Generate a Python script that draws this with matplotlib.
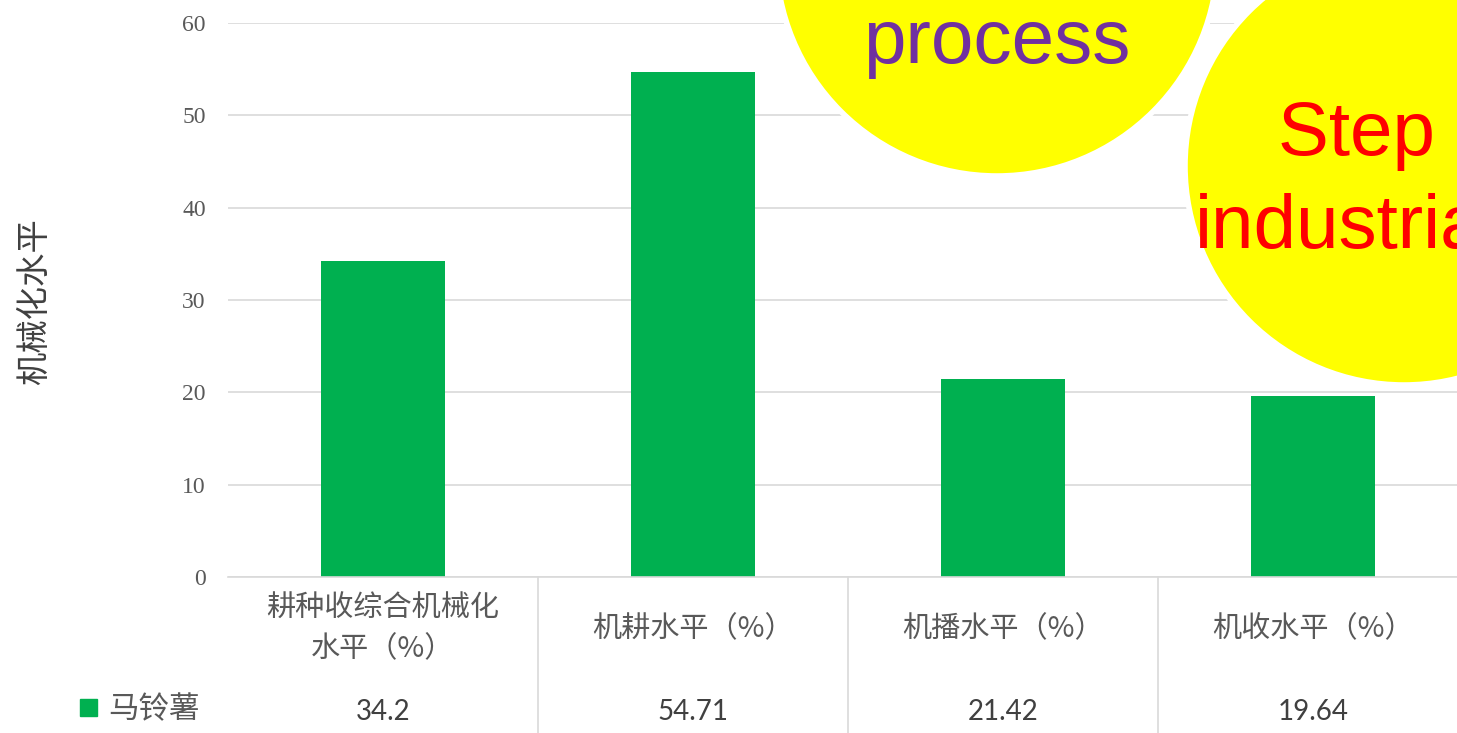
import matplotlib
matplotlib.use("Agg")
import matplotlib.pyplot as plt
from matplotlib.patches import Circle, Rectangle
from matplotlib.transforms import blended_transform_factory

plt.rcParams['font.family'] = ['Noto Sans CJK SC', 'DejaVu Sans']

categories = ["耕种收综合机械化\n水平（%）", "机耕水平（%）", "机播水平（%）", "机收水平（%）"]
values = [34.2, 54.71, 21.42, 19.64]
value_labels = ["34.2", "54.71", "21.42", "19.64"]
series_name = "马铃薯"
y_ticks = [0, 10, 20, 30, 40, 50, 60]

green = "#00b050"
grid_col = "#d9d9d9"

W, H = 1457, 733
fig = plt.figure(figsize=(W / 100, H / 100), dpi=100)

# main plot area (runs slightly past the right edge, like the cropped source)
ax = fig.add_axes([228 / W, 156 / H, 1240 / W, 554 / H])
x = list(range(len(categories)))
ax.bar(x, values, width=0.4, color=green, zorder=2)
ax.set_xlim(-0.5, 3.5)
ax.set_ylim(0, 60)
ax.set_yticks(y_ticks)
ax.set_yticklabels([str(t) for t in y_ticks], family="Liberation Serif",
                   fontsize=17, color="#595959")
ax.tick_params(axis="y", length=0, pad=16)
ax.set_xticks([])
ax.grid(axis="y", color=grid_col, lw=1.2, zorder=0)
for s in ["top", "right", "left"]:
    ax.spines[s].set_visible(False)
ax.spines["bottom"].set_color(grid_col)
ax.spines["bottom"].set_linewidth(1.2)

fig.text(35 / W, 1 - 302 / H, "机械化水平", rotation=90, ha="center", va="center",
         fontsize=24, color="#404040")

# data table under the axis
tr = blended_transform_factory(ax.transData, ax.transAxes)
for i, (lab, v) in enumerate(zip(categories, value_labels)):
    ax.text(i, -0.094, lab, transform=tr, ha="center", va="center", fontsize=21,
            color="#595959", linespacing=1.45, clip_on=False)
    ax.text(i, -0.243, v, transform=tr, ha="center", va="center", fontsize=20,
            family="Lato", color="#404040", clip_on=False)
for i in range(len(categories) - 1):
    ax.plot([i + 0.5, i + 0.5], [0, -0.3], transform=tr, color=grid_col, lw=1.2,
            clip_on=False)

fig.patches.append(Rectangle((80 / W, 1 - 716 / H), 17 / W, 17 / H,
                             transform=fig.transFigure, color=green))
fig.text(108 / W, 1 - 710 / H, series_name, ha="left", va="center", fontsize=22,
         color="#595959")

# overlapping yellow bubbles from the slide
ov = fig.add_axes([0, 0, 1, 1], zorder=5)
ov.set_xlim(0, W)
ov.set_ylim(H, 0)
ov.axis("off")
ov.add_patch(Circle((997, -45), 221, facecolor="#ffff00", edgecolor="white", lw=4))
ov.add_patch(Circle((1404, 166), 219, facecolor="#ffff00", edgecolor="white", lw=4))
ov.text(997, 63, "process", ha="center", va="baseline", fontsize=55,
        family="Liberation Sans", color="#7030a0")
ov.text(1278, 155, "Step to", ha="left", va="baseline", fontsize=55,
        family="Liberation Sans", color="#ff0000")
ov.text(1195, 248, "industrialization", ha="left", va="baseline", fontsize=55,
        family="Liberation Sans", color="#ff0000")

fig.savefig("out.png", dpi=100)
